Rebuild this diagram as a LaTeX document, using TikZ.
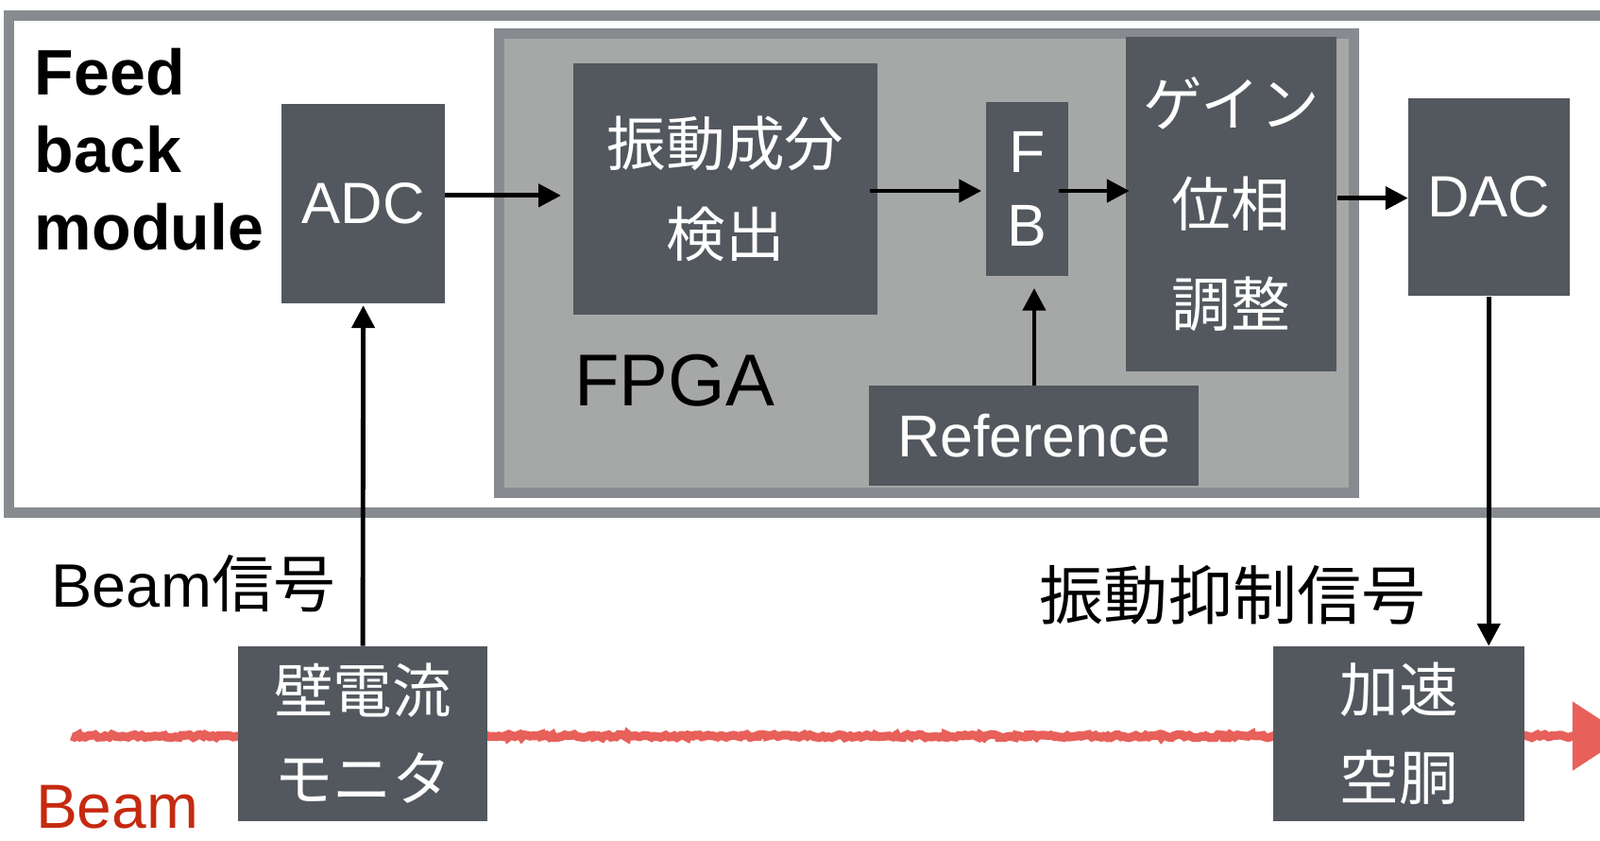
\documentclass[tikz,border=0pt]{standalone}
\usepackage{fontspec}
\setmainfont{Liberation Sans}
\newfontfamily\cjk{Noto Sans CJK JP}
\usetikzlibrary{arrows.meta,decorations.pathmorphing}
\definecolor{darkbox}{HTML}{53575E}
\definecolor{fpgafill}{HTML}{A5A8A6}
\definecolor{framegray}{HTML}{878A8E}
\definecolor{beamred}{HTML}{E8605A}
\definecolor{labelred}{HTML}{C52A10}
\newcommand{\fs}[2]{\fontsize{#1}{#2}\selectfont}
\begin{document}
\begin{tikzpicture}[x=1pt,y=-1pt,
  dbox/.style={fill=darkbox,text=white,inner sep=0pt,align=center},
  lbl/.style={inner sep=0pt,text=black},
  arr/.style={line width=4.5pt,-{Triangle[length=22pt,width=22pt]}},
  beamline/.style={draw=beamred,line width=8.5pt,decorate,
     decoration={random steps,segment length=3pt,amplitude=1.6pt}}]
\useasboundingbox (0,0) rectangle (1568,823);
\clip (0,0) rectangle (1568,823);
\fill[white] (0,0) rectangle (1568,823);
% outer feedback module frame
\draw[draw=framegray,line width=10pt] (1600,15) -- (8.5,15) -- (8.5,502) -- (1600,502);
% FPGA frame
\draw[draw=framegray,fill=fpgafill,line width=10pt] (489,33) rectangle (1327,483);
% beam line
\coordinate (bs) at (70,721);
\coordinate (be) at (1545,721);
\draw[beamline] (bs) -- (be);
\fill[beamred] (be) ++(-4,-34) -- ++(52,34) -- ++(-52,34) -- cycle;
% boxes
\node[dbox,minimum width=160pt,minimum height=195pt,font=\fs{57}{68}] (adc) at (356,199.5) {ADC};
\node[dbox,minimum width=298pt,minimum height=246pt,font=\cjk\fs{58}{89}] (osc) at (711,185) {振動成分\\検出};
\node[dbox,minimum width=81pt,minimum height=170pt,font=\fs{58}{72}] (fb) at (1006.5,185) {F\\B};
\node[dbox,minimum width=207pt,minimum height=328pt,font=\cjk\fs{58}{98}] (gain) at (1206.5,200) {ゲイン\\位相\\調整};
\node[dbox,minimum width=158pt,minimum height=194pt,font=\fs{57}{68}] (dac) at (1459,193) {DAC};
\node[dbox,minimum width=323pt,minimum height=98pt,font=\fs{58}{68}] (ref) at (1013.5,427) {Reference};
\node[dbox,minimum width=245pt,minimum height=171pt,font=\cjk\fs{58}{86}] (wcm) at (355.5,718.5) {壁電流\\モニタ};
\node[dbox,minimum width=246pt,minimum height=171pt,font=\cjk\fs{58}{86}] (cav) at (1371,718.5) {加速\\空胴};
% labels
\node[lbl,anchor=north west,align=left,font=\bfseries\fs{63}{76}] (title) at (34,47) {Feed\\back\\module};
\node[lbl,anchor=base west,font=\fs{72}{80}] (fpga) at (563,398) {FPGA};
\node[lbl,font=\fs{60}{70}] (beamsig) at (190,572) {Beam{\cjk\fs{61}{70}信号}};
\node[lbl,font=\cjk\fs{63}{70}] (suppsig) at (1208,583) {振動抑制信号};
\node[lbl,anchor=base west,text=labelred,font=\fs{61}{70}] (beamlbl) at (35,811) {Beam};
% connectors
\draw[arr] ([yshift=8pt]adc.east) -- ([yshift=8pt]adc.east -| osc.west) [shorten >=12pt];
\draw[arr,shorten <=-8pt,shorten >=4pt] ([yshift=-2pt]osc.east) -- ([yshift=-2pt]fb.west);
\draw[arr,shorten <=-10pt,shorten >=-4pt] ([yshift=-2pt]fb.east) -- ([yshift=-2pt]fb.east -| gain.west);
\draw[arr] ([yshift=6pt]gain.east) -- ([yshift=6pt]gain.east -| dac.west);
\draw[arr,shorten >=12pt] (ref.north) -- (ref.north |- fb.south);
\draw[arr,shorten >=2pt] (wcm.north) -- (adc.south);
\draw[arr] (dac.south) -- (dac.south |- cav.north);
\end{tikzpicture}
\end{document}
